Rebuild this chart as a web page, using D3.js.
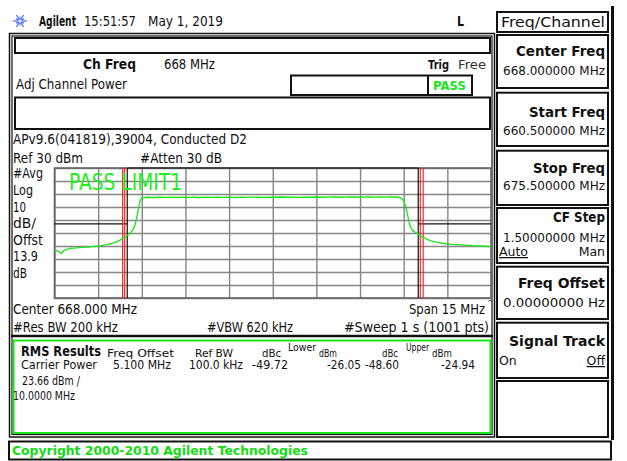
<!DOCTYPE html>
<html>
<head>
<meta charset="utf-8">
<script src="https://cdn.jsdelivr.net/npm/d3@7"></script>
<style>
  html, body { margin: 0; padding: 0; background: #fff; }
  svg { display: block; }
</style>
</head>
<body>
<svg id="screen" width="627" height="461"></svg>
<script>
// ---- Trace data (frequency in MHz, level in dBm) ----
const traceFreq = [
  660.50, 660.56, 660.62, 660.68, 660.74, 660.79, 660.86, 660.95, 661.05, 661.15,
  661.25, 661.35, 661.45, 661.55, 661.65, 661.75, 661.85, 661.95, 662.05, 662.15,
  662.25, 662.35, 662.45, 662.55, 662.65, 662.75, 662.85, 662.93, 663.00, 663.07,
  663.13, 663.19, 663.24, 663.29, 663.33, 663.37, 663.41, 663.45, 663.50, 663.56,
  663.70, 663.90, 664.10, 664.30, 664.50, 664.70, 664.90, 665.10, 665.30, 665.50,
  665.70, 665.90, 666.10, 666.30, 666.50, 666.70, 666.90, 667.10, 667.30, 667.50,
  667.70, 667.90, 668.10, 668.30, 668.50, 668.70, 668.90, 669.10, 669.30, 669.50,
  669.70, 669.90, 670.10, 670.30, 670.50, 670.70, 670.90, 671.10, 671.30, 671.50,
  671.70, 671.90, 672.10, 672.30, 672.40, 672.47, 672.53, 672.58, 672.62, 672.66,
  672.70, 672.74, 672.79, 672.85, 672.91, 672.97, 673.03, 673.10, 673.17, 673.25,
  673.35, 673.45, 673.58, 673.70, 673.85, 674.00, 674.15, 674.30, 674.50, 674.70,
  674.90, 675.10, 675.30, 675.50
];
const traceLevel = [
  -33.0, -33.4, -33.9, -34.8, -35.8, -34.2, -32.9, -32.4, -31.9, -31.6,
  -31.5, -31.2, -31.1, -30.9, -30.8, -30.5, -30.4, -30.2, -29.9, -29.5,
  -29.2, -28.8, -28.1, -27.4, -26.6, -25.5, -24.2, -23.2, -21.7, -20.6,
  -19.4, -17.6, -15.3, -12.0, -7.6, -2.9, 1.8, 5.4, 6.8, 7.2,
  7.5, 7.3, 7.6, 7.4, 7.5, 7.3, 7.6, 7.4, 7.5, 7.3,
  7.6, 7.4, 7.5, 7.4, 7.6, 7.3, 7.5, 7.4, 7.6, 7.5,
  7.4, 7.6, 7.5, 7.7, 7.5, 7.6, 7.4, 7.6, 7.5, 7.7,
  7.5, 7.6, 7.7, 7.5, 7.6, 7.7, 7.5, 7.6, 7.8, 7.6,
  7.7, 7.6, 7.7, 7.5, 7.0, 5.6, 3.0, -0.6, -4.6, -8.9,
  -12.8, -15.6, -17.3, -18.6, -19.6, -20.5, -21.3, -22.4, -23.3, -24.3,
  -25.3, -26.0, -26.8, -27.4, -27.9, -28.4, -28.7, -28.9, -29.2, -29.5,
  -29.8, -30.0, -30.2, -30.5
];

// ---- Display settings ----
const startFreq = 660.5, stopFreq = 675.5;
const refLevel = 30, dbPerDiv = 10, divisions = 10;
const gridFreqs = d3.range(0, divisions + 1).map(i => startFreq + i * 1.5);
const gridLevels = d3.range(0, divisions + 1).map(i => refLevel - i * dbPerDiv);
const channelEdges = [663.0, 673.0];
const integrationLines = [662.84, 662.91, 673.07, 673.17];
const limitLevel = -13;

// ---- Measurement results ----
const resultHeaders = ["Freq Offset", "Ref BW", "dBc", "dBm", "dBc", "dBm"];
const resultValues = ["5.100 MHz", "100.0 kHz", "-49.72", "-26.05", "-48.60", "-24.94"];
const sideLabels = ["#Avg", "Log", "10", "dB/", "Offst", "13.9", "dB"];
const softkeys = [
  { title: "Center Freq", value: "668.000000 MHz" },
  { title: "Start Freq", value: "660.500000 MHz" },
  { title: "Stop Freq", value: "675.500000 MHz" },
  { title: "CF Step", value: "1.50000000 MHz", opts: ["Auto", "Man"], sel: 0 },
  { title: "Freq Offset", value: "0.00000000  Hz" },
  { title: "Signal Track", opts: ["On", "Off"], sel: 1 }
];

const svg = d3.select("#screen");
const FONT = "'DejaVu Sans', 'Liberation Sans', sans-serif";
const GREEN = "#19e619";

svg.append("rect").attr("width", 627).attr("height", 461).attr("fill", "#fff");

function txt(s, x, y, o = {}) {
  const t = svg.append("text")
    .attr("x", x).attr("y", y)
    .attr("font-family", FONT)
    .attr("font-size", o.size || 13)
    .attr("font-weight", o.bold ? "bold" : "normal")
    .attr("fill", o.fill || "#111")
    .attr("text-anchor", o.anchor || "start")
    .text(s);
  if (o.len) t.attr("textLength", o.len).attr("lengthAdjust", "spacingAndGlyphs");
  if (o.underline) t.attr("text-decoration", "underline");
  return t;
}
function box(x, y, w, h, o = {}) {
  return svg.append("rect").attr("x", x).attr("y", y).attr("width", w).attr("height", h)
    .attr("fill", o.fill || "none").attr("stroke", o.stroke || "#111")
    .attr("stroke-width", o.sw || 2);
}

// ---- Header ----
const logo = svg.append("g").attr("transform", "translate(20,21)");
d3.range(12).forEach(i => {
  const a = i * Math.PI / 6, r = i % 2 ? 4.5 : 7;
  logo.append("line").attr("x1", Math.cos(a) * 1.5).attr("y1", Math.sin(a) * 1.5)
    .attr("x2", Math.cos(a) * r).attr("y2", Math.sin(a) * r)
    .attr("stroke", "#3d5cff").attr("stroke-width", 1.1);
});
txt("Agilent", 39, 26, { bold: true, size: 14, len: 37 });
txt("15:51:57", 84, 26, { size: 14, len: 52 });
txt("May 1, 2019", 148, 26, { size: 14, len: 75 });
txt("L", 457, 26, { bold: true, size: 14, len: 7 });

// ---- Main panel frame ----
box(9.5, 33.5, 485, 403.5, { sw: 1.5 });
box(12, 36, 480, 398.5, { sw: 1.2 });

box(15, 38, 475, 15);
txt("Ch Freq", 83, 69, { bold: true, size: 14, len: 53 });
txt("668 MHz", 164, 69, { size: 14, len: 51 });
txt("Trig", 428, 69, { bold: true, size: 13, len: 21 });
txt("Free", 458, 69, { size: 13, len: 28, fill: "#333" });
txt("Adj Channel Power", 16, 89, { size: 14, len: 111 });
box(291, 75.5, 181, 19.5);
svg.append("line").attr("x1", 428).attr("x2", 428).attr("y1", 75.5).attr("y2", 95)
  .attr("stroke", "#111").attr("stroke-width", 2);
txt("PASS", 433, 89.5, { bold: true, size: 13, len: 33, fill: GREEN });
box(15, 97.5, 475, 31.5);

txt("APv9.6(041819),39004, Conducted D2", 13, 144, { size: 14, len: 234 });
txt("Ref 30 dBm", 13, 163, { size: 14, len: 70 });
txt("#Atten 30 dB", 140, 163, { size: 14, len: 82 });
const sideY = [178.3, 195, 211.5, 228, 244.5, 261, 277.5];
const sideW = [30, 20, 13, 23, 30, 25, 14];
sideLabels.forEach((s, i) => txt(s, 13, sideY[i], { size: 14, len: sideW[i] }));

// ---- Plot area ----
const x = d3.scaleLinear().domain([startFreq, stopFreq]).range([54.5, 491]);
const y = d3.scaleLinear().domain([refLevel - dbPerDiv * divisions, refLevel]).range([298, 168]);

const plot = svg.append("g");
plot.append("g").attr("transform", "translate(0,298)")
  .call(d3.axisBottom(x).tickValues(gridFreqs).tickSize(-130).tickFormat(""))
  .call(g => g.select(".domain").remove())
  .call(g => g.selectAll("line").attr("stroke", "#858585").attr("stroke-width", 1.4));
plot.append("g").attr("transform", "translate(54.5,0)")
  .call(d3.axisLeft(y).tickValues(gridLevels).tickSize(-436.5).tickFormat(""))
  .call(g => g.select(".domain").remove())
  .call(g => g.selectAll("line").attr("stroke", "#858585").attr("stroke-width", 1.4));
plot.append("rect").attr("x", x(startFreq)).attr("y", y(refLevel))
  .attr("width", x(stopFreq) - x(startFreq)).attr("height", y(refLevel - 100) - y(refLevel))
  .attr("fill", "none").attr("stroke", "#666").attr("stroke-width", 1.6);

// limit line
const limitSegs = [
  [[startFreq, limitLevel], [channelEdges[0], limitLevel]],
  [[channelEdges[0], refLevel], [channelEdges[1], refLevel]],
  [[channelEdges[1], limitLevel], [stopFreq, limitLevel]]
];
limitSegs.forEach(seg => plot.append("path")
  .attr("d", d3.line().x(d => x(d[0])).y(d => y(d[1]))(seg))
  .attr("stroke", "#111").attr("stroke-width", 1.2).attr("fill", "none"));
channelEdges.forEach(f => plot.append("line")
  .attr("x1", x(f)).attr("x2", x(f)).attr("y1", y(refLevel)).attr("y2", y(refLevel - 100))
  .attr("stroke", "#111").attr("stroke-width", 1.2));
integrationLines.forEach(f => plot.append("line")
  .attr("x1", x(f)).attr("x2", x(f)).attr("y1", y(refLevel)).attr("y2", y(refLevel - 100))
  .attr("stroke", "#ff1a1a").attr("stroke-width", 1.1));

// trace
const pts = traceFreq.map((f, i) => [f, traceLevel[i]]);
plot.append("path")
  .attr("d", d3.line().x(d => x(d[0])).y(d => y(d[1]))(pts))
  .attr("fill", "none").attr("stroke", GREEN).attr("stroke-width", 1.3);

txt("PASS LIMIT1", 69, 190, { size: 23, len: 113, fill: "#1ef01e" });

// ---- Bottom annotation ----
txt("Center 668.000 MHz", 13, 314, { size: 14, len: 124 });
txt("Span 15 MHz", 485, 314, { size: 14, len: 76, anchor: "end" });
txt("^", 487, 305, { size: 7 });
txt("#Res BW 200 kHz", 13, 332, { size: 14, len: 105 });
txt("#VBW 620 kHz", 207, 332, { size: 14, len: 86 });
txt("#Sweep 1 s (1001 pts)", 489, 332, { size: 14, len: 145, anchor: "end" });

// ---- Results box ----
svg.append("line").attr("x1", 11).attr("x2", 493).attr("y1", 336).attr("y2", 336)
  .attr("stroke", "#111").attr("stroke-width", 2.5);
box(13.5, 340.5, 477, 92.5, { stroke: GREEN, sw: 2 });
txt("RMS Results", 21, 356, { bold: true, size: 14, len: 80 });
const hdrX = [107, 195, 262, 319, 382, 432];
const hdrW = [67, 38, 19, 18, 16, 20];
resultHeaders.forEach((s, i) => txt(s, hdrX[i], 357, { size: 11, len: hdrW[i] }));
txt("Lower", 288, 351, { size: 10, len: 28 });
txt("Upper", 406, 351, { size: 10, len: 23 });
txt("Carrier Power", 21, 369, { size: 12, len: 76 });
const valX = [113, 189, 252, 327, 365, 441];
const valW = [58, 54, 36, 34, 34, 34];
resultValues.forEach((s, i) => txt(s, valX[i], 369, { size: 12, len: valW[i] }));
txt("23.66 dBm /", 22, 385, { size: 12, len: 58 });
txt("10.0000 MHz", 13, 400, { size: 12, len: 62 });

// ---- Softkey panel ----
box(497, 12, 111, 20);
txt("Freq/Channel", 501, 27, { size: 14, len: 104 });
const keyTop = [35, 92.7, 150.7, 208, 266.7, 322.7];
const keyBottom = [88, 146, 205, 263, 319, 378];
const titleY = [56, 117, 173, 222, 288, 346];
const valueY = [75, 135, 190, 241.5, 306.5, null];
const titleW = [89, 76, 72, 52, 87, 96];
softkeys.forEach((k, i) => {
  box(497, keyTop[i], 111, keyBottom[i] - keyTop[i]);
  txt(k.title, 605, titleY[i], { bold: true, size: 14, len: titleW[i], anchor: "end" });
  if (k.value) txt(k.value, 605, valueY[i], { size: 12.5, len: 102, anchor: "end" });
  if (k.opts) {
    const oy = k.value ? 256 : 365;
    txt(k.opts[0], 499, oy, { size: 12.5, underline: k.sel === 0 });
    txt(k.opts[1], 605, oy, { size: 12.5, anchor: "end", underline: k.sel === 1 });
  }
});
box(497, 381, 111, 56);
svg.append("rect").attr("x", 611).attr("y", 6).attr("width", 3).attr("height", 434).attr("fill", "#111");

// ---- Footer ----
box(9, 441.5, 602, 18);
txt("Copyright 2000-2010 Agilent Technologies", 12, 455, { bold: true, size: 13, len: 296, fill: "#11dd11" });
</script>
</body>
</html>
